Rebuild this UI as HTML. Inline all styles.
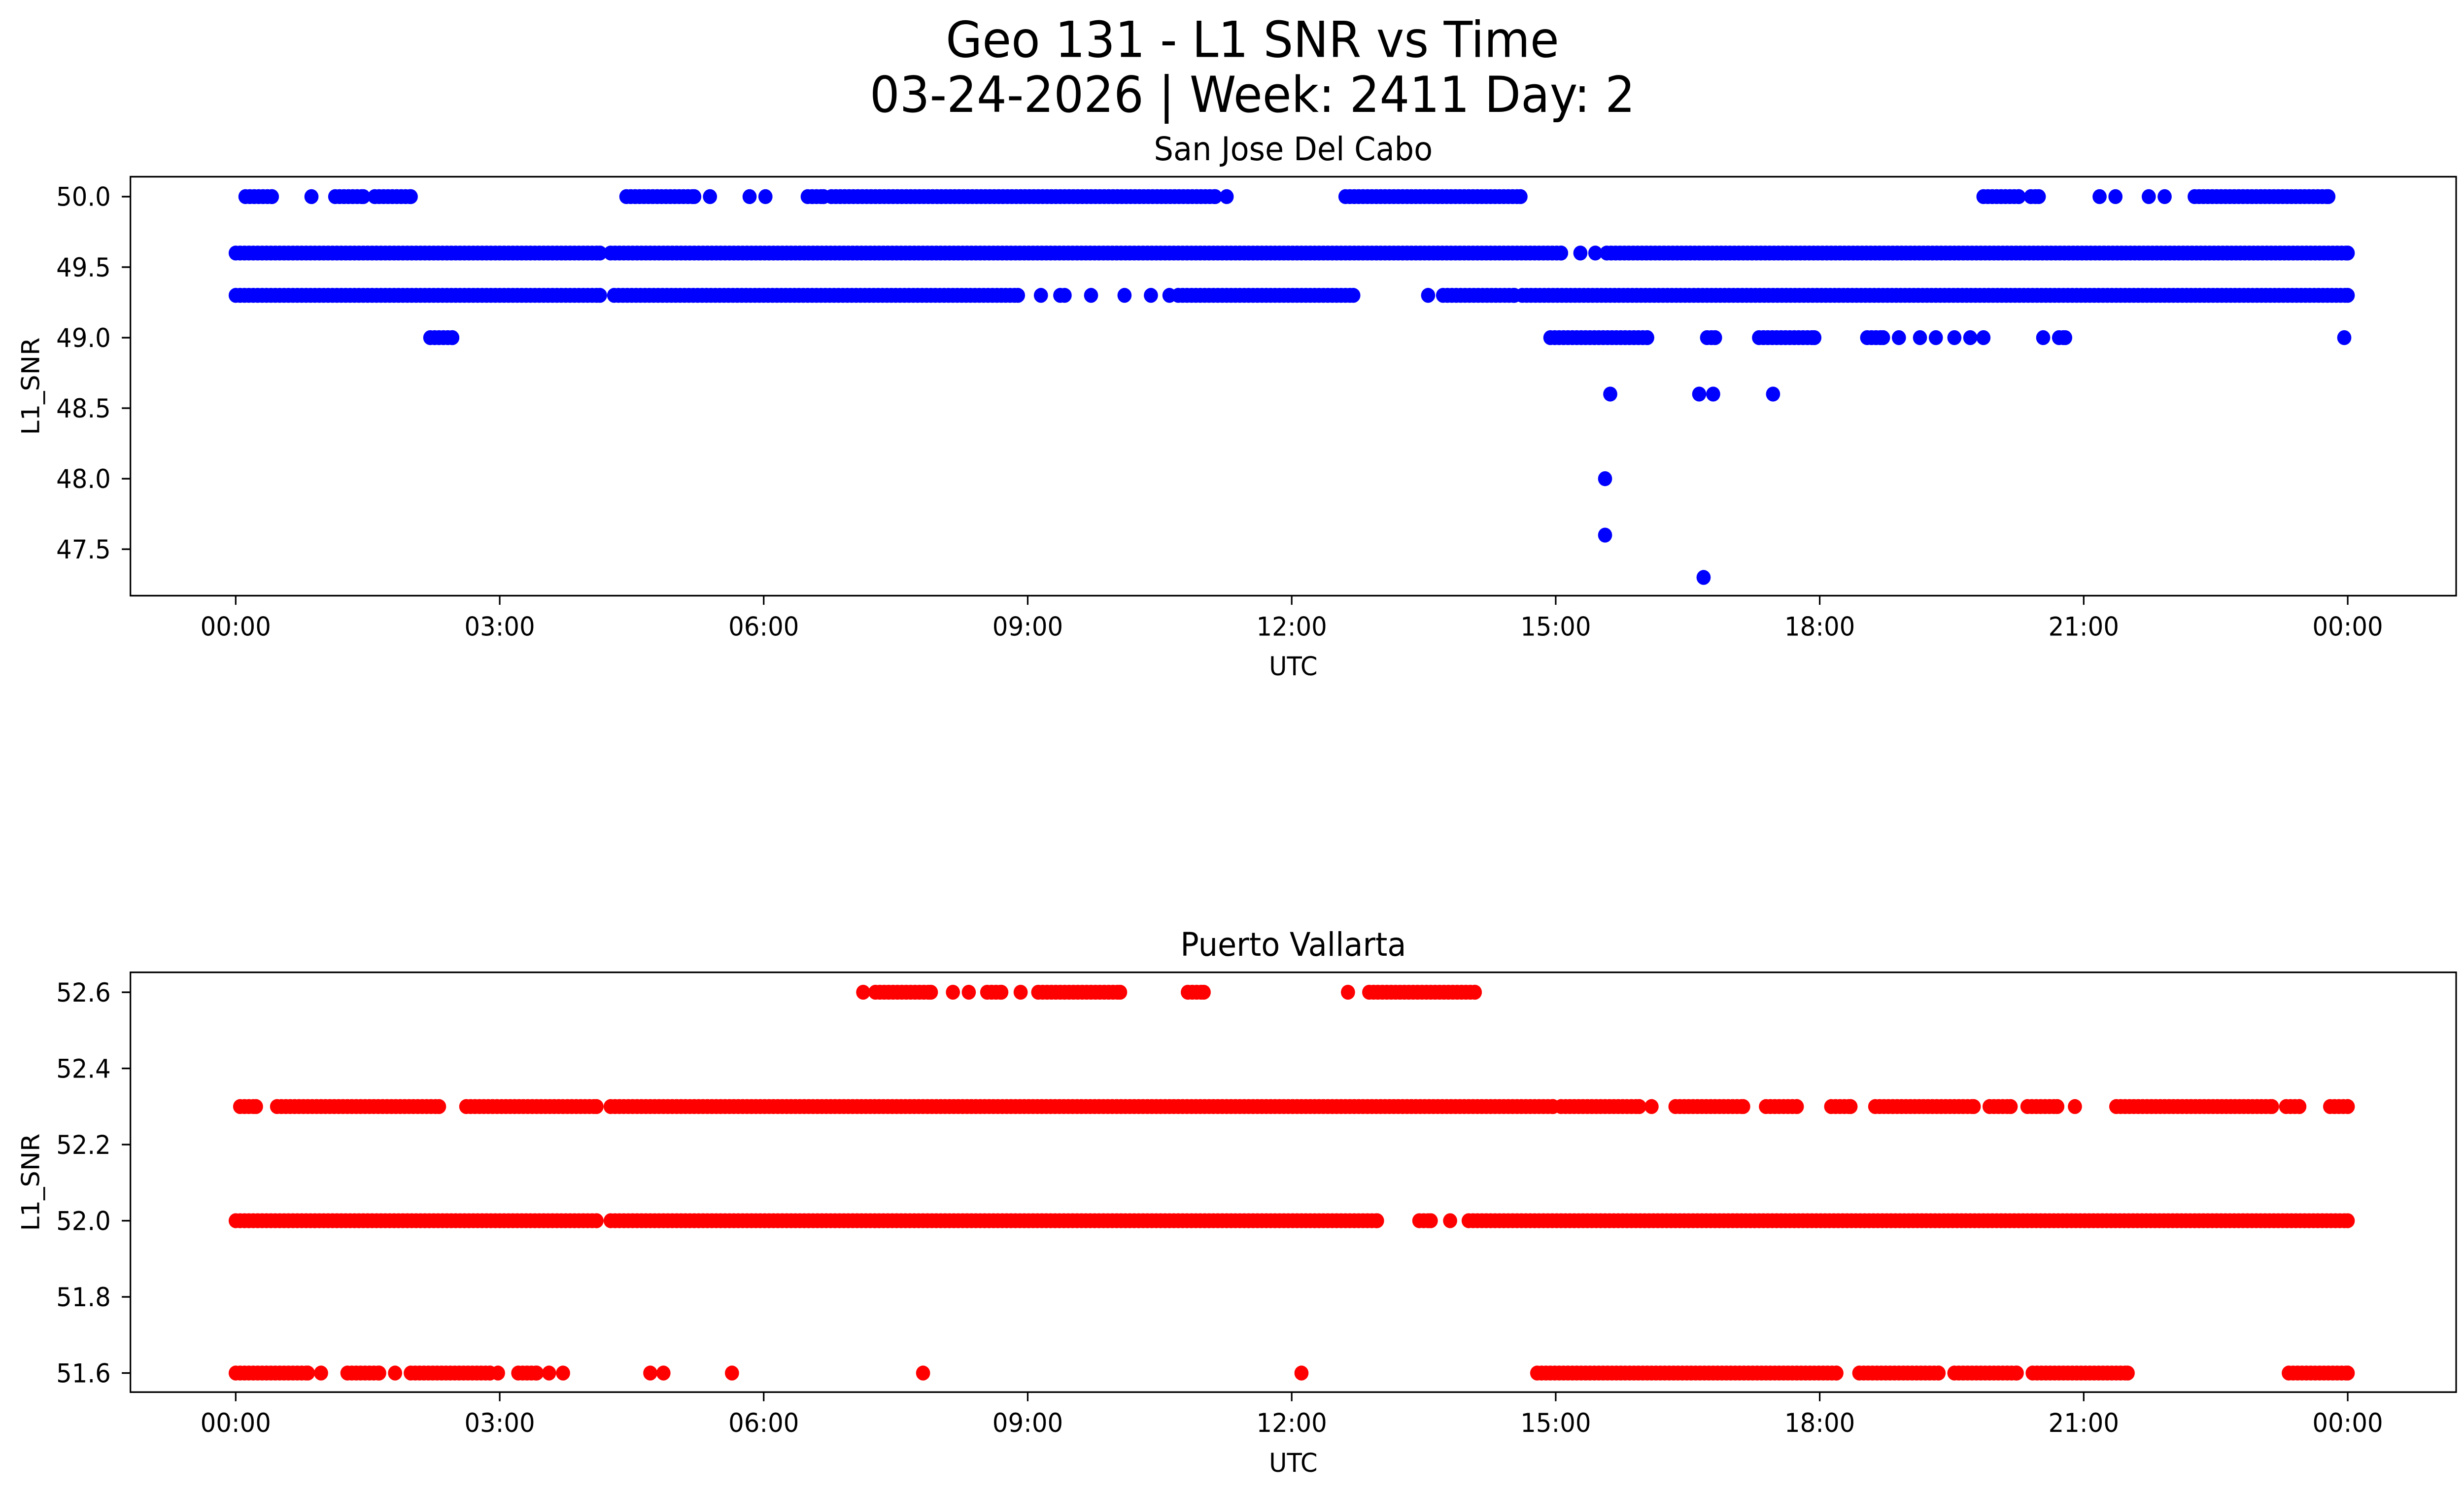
<!DOCTYPE html>
<html><head><meta charset="utf-8"><style>
html,body{margin:0;padding:0;background:#fff;width:100%;height:100%;overflow:hidden}
svg{display:block;width:100vw;height:100vh;font-family:"DejaVu Sans","Liberation Sans",sans-serif}
</style></head><body>
<svg id="fig" viewBox="0 0 1568 901" preserveAspectRatio="none" xmlns="http://www.w3.org/2000/svg">
<rect width="1568" height="901" fill="#fff"/>
<text x="797" y="34.3" font-size="30" text-anchor="middle">Geo 131 - L1 SNR vs Time</text>
<text x="797" y="67.4" font-size="30" text-anchor="middle">03-24-2026 | Week: 2411 Day: 2</text>
<g id="p1"></g>
<g id="p2"></g>
</svg>
<script>
// x tick labels (hours)
const xTickHours = [0,3,6,9,12,15,18,21,24];
const xTickLabels = ["00:00","03:00","06:00","09:00","12:00","15:00","18:00","21:00","00:00"];
// San Jose del Cabo: runs [start,end] in hours and single points per SNR level
const sjLevels = [50.0,49.6,49.3,49.0,48.6,48.0,47.6,47.3];
const sjRuns = [
 [[0.11,0.41],[1.13,1.45],[1.58,1.99],[4.44,5.21],[6.50,6.68],[6.77,11.13],[12.61,14.60],[19.86,20.26],[20.40,20.49],[22.26,23.78]],
 [[0,4.14],[4.26,15.06],[15.58,24]],
 [[0,4.14],[4.30,8.89],[10.71,12.70],[13.72,14.53],[14.62,24]],
 [[2.21,2.46],[14.94,16.04],[16.72,16.81],[17.31,17.94],[18.54,18.72],[20.72,20.79]],
 [],[],[],[]
];
const sjPoints = [
 [0.86,5.39,5.84,6.02,11.26,21.18,21.36,21.74,21.92],
 [15.28,15.45],
 [9.15,9.37,9.42,9.72,10.10,10.40,10.61,13.55],
 [18.90,19.14,19.32,19.53,19.71,19.86,20.54,23.96],
 [15.62,16.63,16.79,17.47],
 [15.56],[15.56],[16.68]
];
const sjYTicks = [47.5,48.0,48.5,49.0,49.5,50.0];
// Puerto Vallarta
const pvLevels = [52.6,52.3,52.0,51.6];
const pvRuns = [
 [[7.27,7.90],[8.54,8.70],[9.12,10.05],[10.82,11.0],[12.88,14.08]],
 [[0.05,0.23],[0.47,2.31],[2.62,4.10],[4.26,14.97],[15.06,15.95],[16.36,17.13],[17.39,17.74],[18.13,18.35],[18.63,19.75],[19.93,20.17],[20.36,20.70],[21.37,23.14],[23.30,23.45],[23.80,24]],
 [[0,4.10],[4.26,12.97],[13.45,13.58],[14.01,24]],
 [[0,0.82],[1.27,1.63],[1.99,2.89],[3.21,3.42],[14.79,18.19],[18.45,19.35],[19.53,20.24],[20.42,21.5],[23.33,24]]
];
const pvPoints = [
 [7.13,8.15,8.33,8.92,12.64],
 [16.09,20.90],
 [13.80],
 [0.97,1.81,2.98,3.56,3.72,4.71,4.86,5.64,7.81,12.11]
];
const pvYTicks = [51.6,51.8,52.0,52.2,52.4,52.6];

const NS="http://www.w3.org/2000/svg";
function mk(tag,attrs,parent){const e=document.createElementNS(NS,tag);for(const k in attrs)e.setAttribute(k,attrs[k]);parent.appendChild(e);return e;}

function panel(g,cfg){
 const L=83,R=1563,T=cfg.top,B=cfg.bottom,FS=15.6,MR=4.5;
 const xs=h=>150+h/24*1344;
 const ys=v=>cfg.y0px+(v-cfg.y0)/(cfg.y1-cfg.y0)*(cfg.y1px-cfg.y0px);
 const t=mk('text',{x:(L+R)/2,y:T-10,'font-size':19.5,'text-anchor':'middle'},g);t.textContent=cfg.title;
 
 
 const pg=mk('g',{fill:cfg.color},g);
 
 
 cfg.levels.forEach((lv,i)=>{
  cfg.runs[i].forEach(r=>{
   for(let h=r[0];h<=r[1]+1e-9;h+=0.05){
    const c=mk('circle',{cx:xs(h).toFixed(1),cy:ys(lv).toFixed(1),r:MR},pg);
    
    
   }
   const c=mk('circle',{cx:xs(r[1]).toFixed(1),cy:ys(lv).toFixed(1),r:MR},pg);
   
   
  });
  cfg.points[i].forEach(h=>{
   const c=mk('circle',{cx:xs(h).toFixed(1),cy:ys(lv).toFixed(1),r:MR},pg);
   
   
  });
 });
 const fr=mk('rect',{x:L,y:T,width:R-L,height:B-T,fill:'none',stroke:'#000','stroke-width':1},g);
 
 
 xTickHours.forEach((h,i)=>{
  const x=xs(h);
  mk('line',{x1:x,y1:B,x2:x,y2:B+5.5,stroke:'#000'},g);
  const tl=mk('text',{x:x,y:B+24,'font-size':FS,'text-anchor':'middle'},g);tl.textContent=xTickLabels[i];
  
  
 });
 cfg.yticks.forEach(v=>{
  const y=ys(v);
  mk('line',{x1:L-5.5,y1:y,x2:L,y2:y,stroke:'#000'},g);
  const tl=mk('text',{x:L-12.5,y:y+5.6,'font-size':FS,'text-anchor':'end'},g);tl.textContent=v.toFixed(1);
  
  
 });
 const xl=mk('text',{x:(L+R)/2,y:B+48,'font-size':FS,'text-anchor':'middle'},g);xl.textContent='UTC';
 
 
 const yl=mk('text',{x:0,y:0,'font-size':FS,'text-anchor':'middle',transform:`translate(25,${(T+B)/2}) rotate(-90)`},g);yl.textContent='L1_SNR';
 
 
}
panel(document.getElementById('p1'),{top:106.5,bottom:359,title:'San Jose Del Cabo',color:'#0000ff',levels:sjLevels,runs:sjRuns,points:sjPoints,yticks:sjYTicks,y0:47.5,y0px:331,y1:50.0,y1px:118.5});
panel(document.getElementById('p2'),{top:586,bottom:839,title:'Puerto Vallarta',color:'#ff0000',levels:pvLevels,runs:pvRuns,points:pvPoints,yticks:pvYTicks,y0:51.6,y0px:827.5,y1:52.6,y1px:598});
</script>
</body></html>
